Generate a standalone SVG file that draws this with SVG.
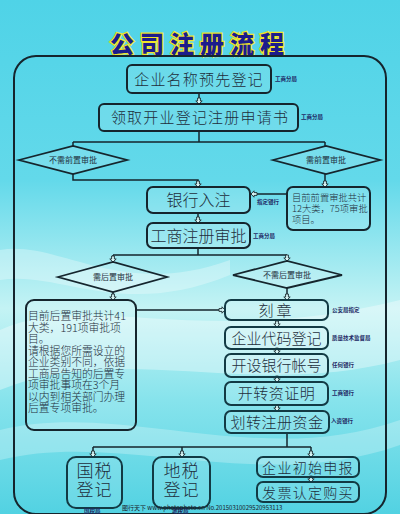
<svg xmlns="http://www.w3.org/2000/svg" width="400" height="514" viewBox="0 0 400 514">
<defs>
<linearGradient id="bg" x1="0" y1="0" x2="0" y2="1">
<stop offset="0" stop-color="#4fd3e7"/>
<stop offset="0.35" stop-color="#63d9ea"/>
<stop offset="0.6" stop-color="#c4f3f4"/>
<stop offset="0.78" stop-color="#86e3ec"/>
<stop offset="1" stop-color="#52d2e2"/>
</linearGradient>
<marker id="ah" viewBox="-1 -4 8 8" refX="6" refY="0" markerWidth="8" markerHeight="8" markerUnits="userSpaceOnUse" orient="auto">
<path d="M0,-1.4 L3,-1.4 L3,-3.2 L6,0 L3,3.2 L3,1.4 L0,1.4 Z" fill="#d8f6f6" stroke="#1a2a30" stroke-width="0.9"/>
</marker>
<style>
.box{fill:#ffffff;fill-opacity:0.12;stroke:#15252d;stroke-width:2}
.tbox{fill:#ffffff;fill-opacity:0.12;stroke:#123a44;stroke-width:2}
.dia{fill:#ffffff;fill-opacity:0.15;stroke:#15252d;stroke-width:1.8}
.t{font-family:"Noto Sans CJK SC","Noto Sans",sans-serif;fill:#1e2e3c;text-anchor:middle}
.big{font-size:15px;font-weight:300}
.dl{font-size:8px;font-weight:400}
.sm{font-family:"Noto Sans CJK SC",sans-serif;font-size:5.5px;font-weight:700;fill:#1f2a66}
.para{font-family:"Noto Sans CJK SC",sans-serif;font-size:10.8px;font-weight:300;fill:#1e2e3c}
.para2{font-family:"Noto Sans CJK SC",sans-serif;font-size:9.3px;font-weight:300;fill:#1e2e3c}
.c{fill:none;stroke:#15252d;stroke-width:1.5}
</style>
</defs>
<rect width="400" height="514" fill="url(#bg)"/>
<path d="M0,330 C90,290 200,350 400,300 L400,360 C250,400 120,340 0,390 Z" fill="#ffffff" opacity="0.35"/>
<path d="M0,430 C120,400 260,470 400,420 L400,445 C260,495 120,430 0,460 Z" fill="#ffffff" opacity="0.25"/>
<path d="M0,250 C60,240 120,300 230,260 L230,275 C120,320 60,270 0,280 Z" fill="#ffffff" opacity="0.3"/>

<text x="200" y="53" font-family="'Noto Sans CJK SC',sans-serif" font-size="24" font-weight="900" fill="#1c1c8c" stroke="#f0e428" stroke-width="2.5" paint-order="stroke" text-anchor="middle" letter-spacing="6">公司注册流程</text>

<rect x="14" y="56" width="372" height="458" rx="22" fill="none" stroke="#15252d" stroke-width="2"/>

<g id="connectors">
<path class="c" d="M199,93 V104" marker-end="url(#ah)"/>
<path class="c" d="M199,131 V142 M73,142 H325 M73,142 V146 M325,142 V146"/>
<path class="c" d="M73,174 V180 H198 V187" marker-end="url(#ah)"/>
<path class="c" d="M325,174 V187" marker-end="url(#ah)"/>
<path class="c" d="M287,194 H251" marker-end="url(#ah)"/>
<path class="c" d="M198,213 V223" marker-end="url(#ah)"/>
<path class="c" d="M198,248 V255 M113,255 H287"/>
<path class="c" d="M113,255 V262" marker-end="url(#ah)"/>
<path class="c" d="M287,255 V261" marker-end="url(#ah)"/>
<path class="c" d="M113,292 V300" marker-end="url(#ah)"/>
<path class="c" d="M287,288 V300" marker-end="url(#ah)"/>
<path class="c" d="M136,310 H225" marker-end="url(#ah)"/>
<path class="c" d="M277,320 V327" marker-end="url(#ah)"/>
<path class="c" d="M277,349 V354" marker-end="url(#ah)"/>
<path class="c" d="M277,377 V382" marker-end="url(#ah)"/>
<path class="c" d="M277,405 V411" marker-end="url(#ah)"/>
<path class="c" d="M287,433 V447 M93,447 H311"/>
<path class="c" d="M93,447 V457" marker-end="url(#ah)"/>
<path class="c" d="M182,447 V457" marker-end="url(#ah)"/>
<path class="c" d="M311,447 V457" marker-end="url(#ah)"/>
<path class="c" d="M311,477 V482" marker-end="url(#ah)"/>
</g>

<g id="n1">
<rect class="box" x="127" y="65" width="144" height="28" rx="5"/>
<text class="t big" x="199" y="84.5" letter-spacing="1.2">企业名称预先登记</text>
<text class="sm" x="275" y="81">工商分局</text>
</g>
<g id="n2">
<rect class="box" x="99" y="104" width="199" height="27" rx="5"/>
<text class="t big" x="200" y="123" letter-spacing="1.2">领取开业登记注册申请书</text>
<text class="sm" x="301" y="119">工商分局</text>
</g>
<g id="d1">
<polygon class="dia" points="19,160 73,146 127,160 73,174"/>
<text class="t dl" x="73" y="163">不需前置审批</text>
</g>
<g id="d2">
<polygon class="dia" points="273,160 326,146 380,160 326,174"/>
<text class="t dl" x="326" y="163">需前置审批</text>
</g>
<g id="n3">
<rect class="box" x="147" y="187" width="103" height="26" rx="6"/>
<text class="t" x="198.5" y="206" font-size="16" font-weight="300">银行入注</text>
<text class="sm" x="257" y="204">指定银行</text>
</g>
<g id="n4">
<rect class="box" x="287" y="187" width="83" height="43" rx="6"/>
<text class="para2" x="292" y="201">目前前置审批共计<tspan x="292" dy="11">12大类，75项审批</tspan><tspan x="292" dy="11">项目。</tspan></text>
</g>
<g id="n5">
<rect class="box" x="147" y="223" width="103" height="25" rx="6"/>
<text class="t" x="198.5" y="242" font-size="16" font-weight="300">工商注册审批</text>
<text class="sm" x="253" y="238">工商分局</text>
</g>
<g id="d3">
<polygon class="dia" points="58,277 113,262 167,277 113,292"/>
<text class="t dl" x="113" y="280">需后置审批</text>
</g>
<g id="d4">
<polygon class="dia" points="233,275 287,261 342,275 287,288"/>
<text class="t dl" x="287" y="278">不需后置审批</text>
</g>
<g id="n6">
<rect class="box" x="26" y="300" width="110" height="130" rx="8"/>
<text class="para" x="28" y="320">目前后置审批共计41<tspan x="28" dy="11.5">大类，191项审批项</tspan><tspan x="28" dy="11.5">目。</tspan><tspan x="28" dy="11.8">请根据您所需设立的</tspan><tspan x="28" dy="11.5">企业类别不同，依据</tspan><tspan x="28" dy="11.5">工商局告知的后置专</tspan><tspan x="28" dy="11.5">项审批事项在3个月</tspan><tspan x="28" dy="11.5">以内到相关部门办理</tspan><tspan x="28" dy="11.5">后置专项审批。</tspan></text>
</g>
<g id="n7">
<rect class="tbox" x="225" y="300" width="103" height="20" rx="6"/>
<text class="t" x="276.5" y="316" font-size="15" font-weight="300" letter-spacing="3">刻章</text>
<text class="sm" x="332" y="312">公安局指定</text>
</g>
<g id="n8">
<rect class="tbox" x="225" y="327" width="103" height="22" rx="6"/>
<text class="t big" x="276.5" y="344">企业代码登记</text>
<text class="sm" x="332" y="340">质量技术监督局</text>
</g>
<g id="n9">
<rect class="tbox" x="225" y="354" width="103" height="23" rx="6"/>
<text class="t big" x="276.5" y="371">开设银行帐号</text>
<text class="sm" x="332" y="367">任何银行</text>
</g>
<g id="n10">
<rect class="tbox" x="225" y="382" width="103" height="23" rx="6"/>
<text class="t big" x="276.5" y="399" letter-spacing="0.5">开转资证明</text>
<text class="sm" x="332" y="395">工商银行</text>
</g>
<g id="n11">
<rect class="tbox" x="225" y="411" width="104" height="22" rx="6"/>
<text class="t big" x="277" y="428" letter-spacing="0.5">划转注册资金</text>
<text class="sm" x="331" y="423">入资银行</text>
</g>
<g id="n12">
<rect class="tbox" x="67" y="457" width="55" height="51" rx="9"/>
<text class="t" x="94.5" y="477" font-size="17" font-weight="300" letter-spacing="1">国税</text>
<text class="t" x="94.5" y="496" font-size="17" font-weight="300" letter-spacing="1">登记</text>
<text class="sm" x="84" y="513">国税局</text>
</g>
<g id="n13">
<rect class="tbox" x="153" y="457" width="57" height="51" rx="9"/>
<text class="t" x="181.5" y="477" font-size="17" font-weight="300" letter-spacing="1">地税</text>
<text class="t" x="181.5" y="496" font-size="17" font-weight="300" letter-spacing="1">登记</text>
<text class="sm" x="172" y="513">地税局</text>
</g>
<g id="n14">
<rect class="tbox" x="257" y="457" width="102" height="20" rx="6"/>
<text class="t" x="308" y="473" font-size="14" font-weight="300" letter-spacing="1.3">企业初始申报</text>
</g>
<g id="n15">
<rect class="tbox" x="257" y="482" width="102" height="20" rx="6"/>
<text class="t" x="308" y="498" font-size="14" font-weight="300" letter-spacing="1.3">发票认定购买</text>
</g>
<text x="122" y="510" font-family="'Noto Sans CJK SC',sans-serif" font-size="6" fill="#1a1a2a">图行天下 www.photophoto.cn  No.20150310029520953113</text>
</svg>
